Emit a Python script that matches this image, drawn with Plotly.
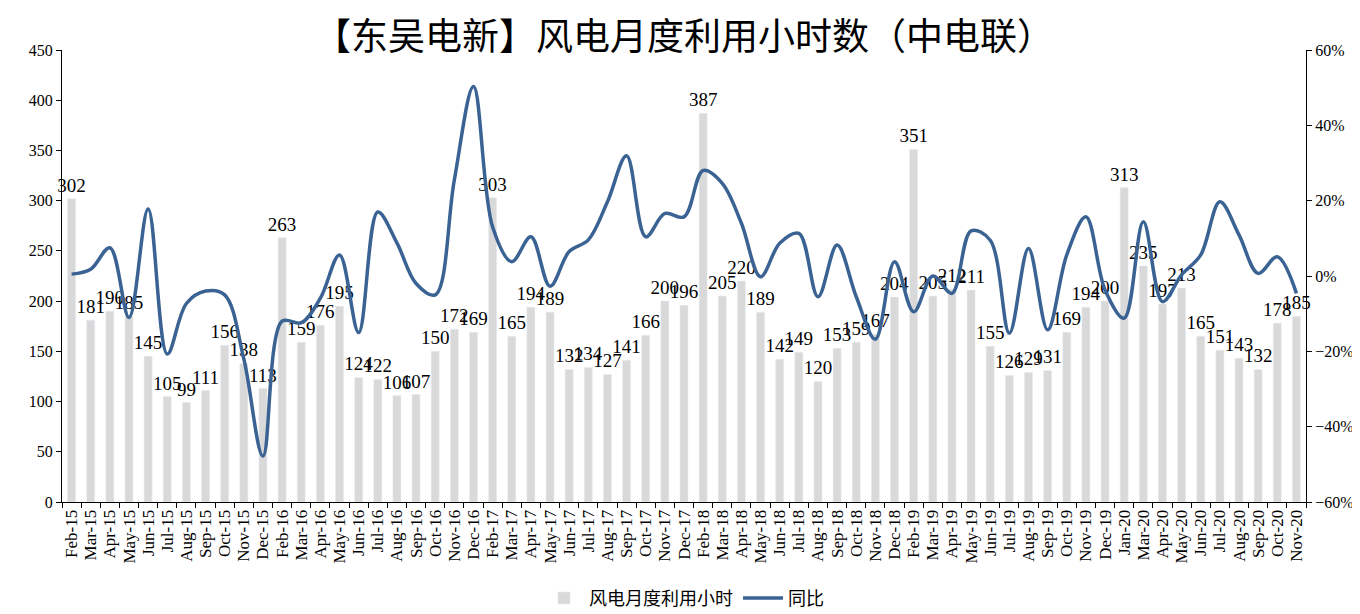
import plotly.graph_objects as go

months = []
for yr in ["15", "16", "17", "18", "19"]:
    for m in ["Feb", "Mar", "Apr", "May", "Jun", "Jul", "Aug", "Sep", "Oct", "Nov", "Dec"]:
        months.append(f"{m}-{yr}")
for m in ["Jan", "Mar", "Apr", "May", "Jun", "Jul", "Aug", "Sep", "Oct", "Nov"]:
    months.append(f"{m}-20")

hours = [302, 181, 190, 185, 145, 105, 99, 111, 156, 138, 113,
         263, 159, 176, 195, 124, 122, 106, 107, 150, 172, 169,
         303, 165, 194, 189, 132, 134, 127, 141, 166, 200, 196,
         387, 205, 220, 189, 142, 149, 120, 153, 159, 167, 204,
         351, 205, 212, 211, 155, 126, 129, 131, 169, 194, 200,
         313, 235, 197, 213, 165, 151, 143, 132, 178, 185]

yoy = [0.5, 1.8, 7.5, -11.0, 17.8, -20.7, -7.3, -4.0, -5.0, -22.0, -47.8,
       -12.0, -12.4, -5.9, 5.6, -15.0, 17.0, 8.8, -2.0, -5.0, 25.5, 50.3,
       13.0, 3.8, 10.4, -2.7, 6.5, 9.6, 19.7, 31.9, 10.4, 16.6, 15.7,
       28.0, 24.6, 14.0, -0.2, 8.7, 11.3, -5.5, 8.2, -5.5, -16.8, 3.8,
       -9.5, 0.0, -4.6, 12.0, 9.5, -15.2, 7.3, -14.3, 5.6, 15.7, -3.7,
       -11.2, 14.4, -6.8, 0.3, 5.6, 19.7, 10.9, 0.7, 5.1, -4.6]

serif = "Liberation Serif, Times New Roman, serif"
cjk = "Noto Sans CJK SC"

fig = go.Figure()
fig.add_trace(go.Bar(
    x=months, y=hours, name="风电月度利用小时",
    marker=dict(color="#d9d9d9"),
    text=[str(v) for v in hours], textposition="outside",
    textangle=0, constraintext="none", cliponaxis=False,
    textfont=dict(family=serif, size=19, color="#000000"),
    yaxis="y",
))
fig.add_trace(go.Scatter(
    x=months, y=[v / 100 for v in yoy], name="同比",
    mode="lines", line=dict(color="#3a6393", width=3.5, shape="spline", smoothing=1.0),
    yaxis="y2",
))

fig.update_layout(
    width=1352, height=606,
    paper_bgcolor="white", plot_bgcolor="white",
    margin=dict(l=54, r=54, t=42, b=112, autoexpand=False),
    bargap=0.58,
    title=dict(text="【东吴电新】风电月度利用小时数（中电联）", x=0.5, xanchor="center",
               xref="paper", yref="container", y=0.952, yanchor="middle",
               font=dict(family=cjk, size=37, color="#000000")),
    showlegend=True,
    legend=dict(orientation="h", x=0.5, xanchor="center", yref="container", y=0.026,
                yanchor="middle", font=dict(family=cjk, size=18, color="#000000"),
                itemwidth=40, tracegroupgap=20),
    xaxis=dict(type="category", tickangle=-90, showline=True, linecolor="#000000", linewidth=1,
               ticks="outside", tickson="boundaries", ticklen=5, tickcolor="#000000",
               tickmode="array", tickvals=months, ticktext=months,
               automargin=False,
               tickfont=dict(family=serif, size=17, color="#000000"), showgrid=False),
    yaxis=dict(range=[0, 450], dtick=50, showline=True, linecolor="#000000", linewidth=1,
               ticks="outside", ticklen=5, tickcolor="#000000", showgrid=False, zeroline=False,
               automargin=False,
               tickfont=dict(family=serif, size=16, color="#000000")),
    yaxis2=dict(range=[-0.6, 0.6], dtick=0.2, tickformat=".0%", overlaying="y", side="right",
                showline=True, linecolor="#000000", linewidth=1, ticks="outside", ticklen=5,
                tickcolor="#000000", showgrid=False, zeroline=False, automargin=False,
                tickfont=dict(family=serif, size=16, color="#000000")),
)

fig.write_html("out.html")
